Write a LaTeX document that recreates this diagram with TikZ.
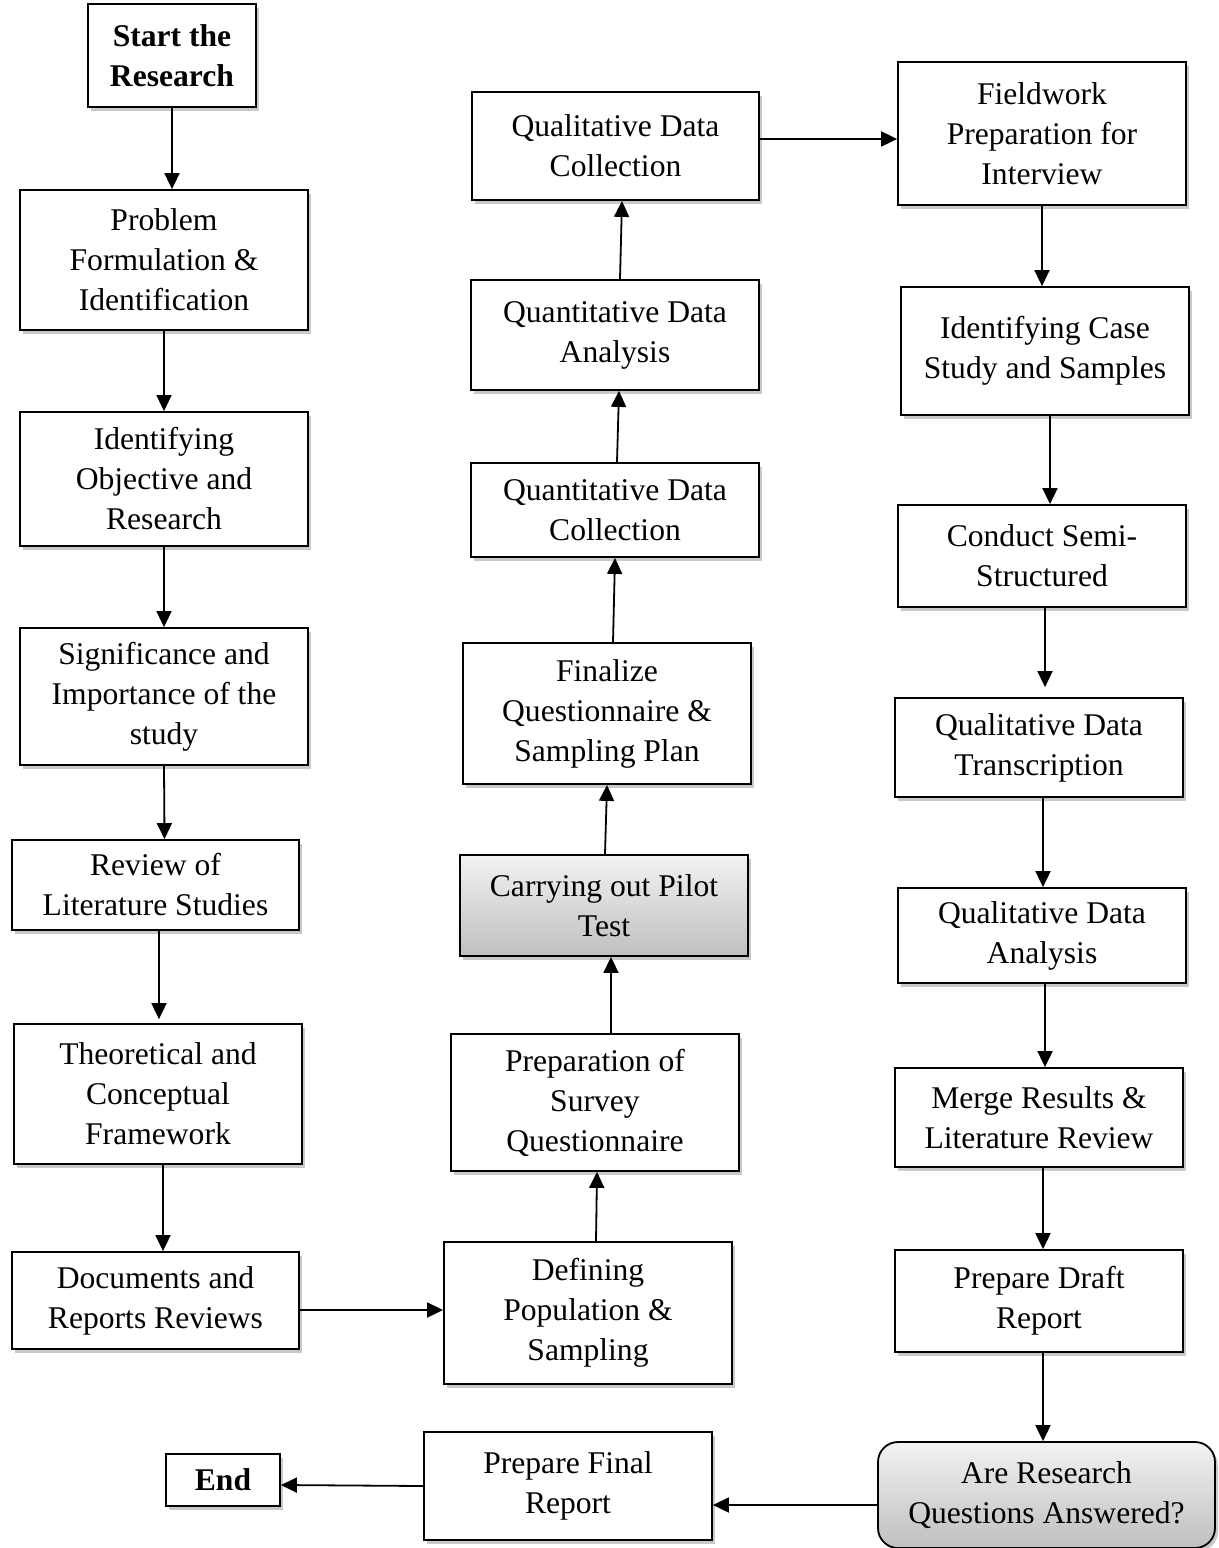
\documentclass[tikz,border=0pt]{standalone}
\usepackage{fontspec}
\setmainfont{Liberation Serif}
\usepackage{tikz}
\usetikzlibrary{arrows.meta,shadows}

\begin{document}
\begin{tikzpicture}[x=0.5pt,y=-0.5pt,>={Triangle[length=8pt,width=7.5pt]},
  stage/.style={draw,line width=0.9pt,fill=white,align=center,inner sep=2pt,
    font=\fontsize{15.8}{20}\selectfont,
    drop shadow={shadow xshift=1.5pt,shadow yshift=-1.8pt,opacity=0.3,fill=black!70}},
  greystage/.style={stage,top color=black!5,bottom color=black!25},
  link/.style={->,line width=0.9pt}]
  \useasboundingbox (0,0) rectangle (1219,1548);
  % left column
  \node[stage,minimum width=84pt,minimum height=51.5pt,font=\fontsize{15.8}{20}\selectfont\bfseries] (start) at (172,55.5) {Start the\\Research};
  \node[stage,minimum width=144pt,minimum height=70pt] (prob) at (164,260) {Problem\\Formulation \&\\Identification};
  \node[stage,minimum width=144pt,minimum height=67pt] (ident) at (164,479) {Identifying\\Objective and\\Research};
  \node[stage,minimum width=144pt,minimum height=68.5pt] (sig) at (164,696.5) {Significance and\\Importance of the\\study};
  \node[stage,minimum width=143.5pt,minimum height=45pt] (rev) at (155.5,885) {Review of\\Literature Studies};
  \node[stage,minimum width=144pt,minimum height=70pt] (theo) at (158,1094) {Theoretical and\\Conceptual\\Framework};
  \node[stage,minimum width=143.5pt,minimum height=48.5pt] (doc) at (155.5,1300.5) {Documents and\\Reports Reviews};
  \node[stage,minimum width=57pt,minimum height=26pt,font=\fontsize{15.8}{20}\selectfont\bfseries] (fin) at (223,1480) {End};
  % middle column
  \node[stage,minimum width=143.5pt,minimum height=54pt] (qualcol) at (615.5,146) {Qualitative Data\\Collection};
  \node[stage,minimum width=144pt,minimum height=55pt] (quanana) at (615,335) {Quantitative Data\\Analysis};
  \node[stage,minimum width=144pt,minimum height=47pt] (quancol) at (615,510) {Quantitative Data\\Collection};
  \node[stage,minimum width=144pt,minimum height=70.5pt] (final) at (607,713.5) {Finalize\\Questionnaire \&\\Sampling Plan};
  \node[greystage,minimum width=144pt,minimum height=50.5pt] (pilot) at (604,905.5) {Carrying out Pilot\\Test};
  \node[stage,minimum width=144pt,minimum height=68.5pt] (prep) at (595,1102.5) {Preparation of\\Survey\\Questionnaire};
  \node[stage,minimum width=144pt,minimum height=71pt] (popul) at (588,1313) {Defining\\Population \&\\Sampling};
  \node[stage,minimum width=144pt,minimum height=54pt] (report) at (568,1486) {Prepare Final\\Report};
  % right column
  \node[stage,minimum width=144pt,minimum height=71.5pt] (field) at (1042,133.5) {Fieldwork\\Preparation for\\Interview};
  \node[stage,minimum width=144pt,minimum height=64pt] (case) at (1045,351) {Identifying Case\\Study and Samples};
  \node[stage,minimum width=144pt,minimum height=51pt] (semi) at (1042,556) {Conduct Semi-\\Structured};
  \node[stage,minimum width=144pt,minimum height=49.5pt] (transc) at (1039,747.5) {Qualitative Data\\Transcription};
  \node[stage,minimum width=144pt,minimum height=47.5pt] (qualana) at (1042,935.5) {Qualitative Data\\Analysis};
  \node[stage,minimum width=144pt,minimum height=49.5pt] (merge) at (1039,1117.5) {Merge Results \&\\Literature Review};
  \node[stage,minimum width=144pt,minimum height=51pt] (draft) at (1039,1301) {Prepare Draft\\Report};
  \node[greystage,rounded corners=10pt,minimum width=168.5pt,minimum height=53pt] (answer) at (1046.5,1495) {Are Research\\Questions Answered?};
  % down the left
  \draw[link] (start.south) -- ([xshift=4pt]prob.north);
  \draw[link] (prob) -- (ident);
  \draw[link] (ident) -- (sig);
  \draw[link] (sig.south) -- ([xshift=4.5pt]rev.north);
  \draw[link] ([xshift=1.75pt]rev.south) -- ([xshift=0.5pt,yshift=2pt]theo.north);
  \draw[link] ([xshift=2.5pt]theo.south) -- ([xshift=3.75pt]doc.north);
  \draw[link] ([yshift=-4.75pt]doc.east) -- ([yshift=1.5pt]popul.west);
  % up the middle
  \draw[link] ([xshift=4pt]popul.north) -- ([xshift=1pt]prep.south);
  \draw[link] ([xshift=8pt]prep.north) -- ([xshift=3.5pt]pilot.south);
  \draw[link] ([xshift=0.5pt]pilot.north) -- (final.south);
  \draw[link] ([xshift=3pt]final.north) -- (quancol.south);
  \draw[link] ([xshift=1pt]quancol.north) -- ([xshift=2pt]quanana.south);
  \draw[link] ([xshift=2.5pt]quanana.north) -- ([xshift=3.25pt]qualcol.south);
  \draw[link] ([yshift=3.5pt]qualcol.east) -- ([yshift=-2.75pt]field.west);
  % down the right
  \draw[link] (field.south) -- ([xshift=-1.5pt]case.north);
  \draw[link] ([xshift=2.5pt]case.south) -- ([xshift=4pt]semi.north);
  \draw[link,shorten >=5pt] ([xshift=1.5pt]semi.south) -- ([xshift=3pt]transc.north);
  \draw[link] ([xshift=2pt]transc.south) -- ([xshift=0.5pt]qualana.north);
  \draw[link] ([xshift=1.5pt]qualana.south) -- ([xshift=3pt]merge.north);
  \draw[link] ([xshift=2pt]merge.south) -- ([xshift=2pt]draft.north);
  \draw[link] ([xshift=2pt]draft.south) -- ([xshift=-1.75pt]answer.north);
  % to the end
  \draw[link] ([yshift=-5pt]answer.west) -- ([yshift=-9.5pt]report.east);
  \draw[link] (report.west) -- ([yshift=-2.5pt]fin.east);
\end{tikzpicture}
\end{document}
